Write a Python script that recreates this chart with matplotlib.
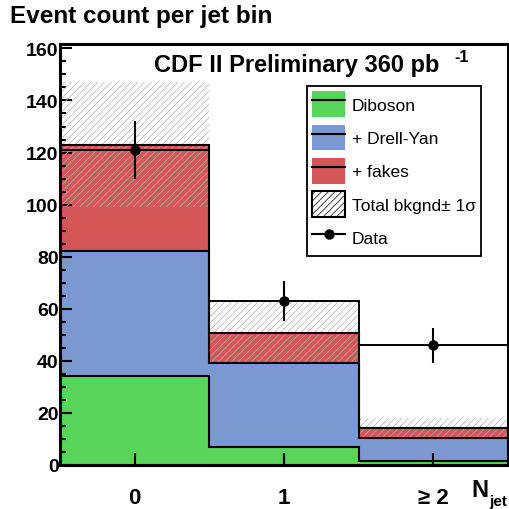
import numpy as np
import matplotlib
matplotlib.use("Agg")
import matplotlib.pyplot as plt
from matplotlib.patches import Patch
from matplotlib.lines import Line2D

plt.rcParams["font.family"] = ["Liberation Sans", "DejaVu Sans"]
plt.rcParams["hatch.linewidth"] = 0.5

# ---------- DATA ----------
jet_bins = [0, 1, 2]
jet_labels = ["0", "1", "\u2265 2"]
diboson = [34.2, 6.8, 1.7]
drell_yan = [48.0, 32.3, 8.7]       # stacked on diboson
fakes = [40.8, 11.7, 3.8]           # stacked on drell-yan
bkg_err = [24.0, 12.0, 4.0]
data = [121, 63, 46]
data_err = [11.0, 7.8, 6.8]

GREEN = "#57d45a"
BLUE = "#7a99d1"
RED = "#d55656"

edges = np.arange(len(jet_bins) + 1) - 0.5
s1 = np.array(diboson)
s2 = s1 + np.array(drell_yan)
s3 = s2 + np.array(fakes)
err = np.array(bkg_err)

fig = plt.figure(figsize=(5.09, 5.10), dpi=100)
ax = fig.add_axes([0.1179, 0.0863, 0.8801, 0.8255])

# ---------- STACK ----------
ax.stairs(s3, edges, baseline=0, fill=True, color=RED, zorder=1)
ax.stairs(s2, edges, baseline=0, fill=True, color=BLUE, zorder=1)
ax.stairs(s1, edges, baseline=0, fill=True, color=GREEN, zorder=1)

# uncertainty band
ax.bar(jet_bins, 2 * err, bottom=s3 - err, width=1.0, facecolor="none",
       edgecolor="#b0b0b0", hatch="/////", linewidth=0, zorder=2)

for s in (s1, s2, s3):
    ax.stairs(s, edges, baseline=None, color="black", linewidth=1.5, zorder=3)

# ---------- DATA ----------
ax.stairs(data, edges, baseline=None, color="black", linewidth=1.4, zorder=4)
ax.errorbar(jet_bins, data, yerr=data_err, fmt="o", color="black",
            markersize=6.5, elinewidth=1.5, capsize=0, zorder=5)

# ---------- AXES ----------
ax.set_xlim(-0.5, 2.5)
ax.set_ylim(0, 161.7)
ax.set_yticks(np.arange(0, 161, 20))
ax.set_yticks(np.arange(0, 161, 5), minor=True)
ax.set_xticks(jet_bins)
ax.set_xticklabels(jet_labels)
ax.tick_params(axis="y", which="major", direction="in", length=8.6, width=1.5,
               labelsize=14, pad=1)
ax.tick_params(axis="y", which="minor", direction="in", length=4.3, width=1.5)
ax.tick_params(axis="x", which="major", direction="in", length=8.6, width=1.5,
               labelsize=16, pad=16)
for lab in ax.get_xticklabels() + ax.get_yticklabels():
    lab.set_fontweight("bold")
for sp in ax.spines.values():
    sp.set_linewidth(2.2)

fig.text(0.926, 0.025, "N", fontsize=17, fontweight="bold", va="baseline")
fig.text(0.962, 0.008, "jet", fontsize=11, fontweight="bold", va="baseline")

# ---------- TEXT ----------
fig.text(0.02, 0.955, "Event count per jet bin", fontsize=17.5,
         fontweight="bold", va="baseline")
fig.text(0.303, 0.859, "CDF II Preliminary 360 pb", fontsize=17,
         fontweight="bold", va="baseline")
fig.text(0.893, 0.878, "-1", fontsize=11.5, fontweight="bold", va="baseline")

# ---------- LEGEND ----------
def band(c):
    return (Patch(facecolor=c, edgecolor="none"),
            Line2D([], [], color="black", linewidth=1.5))

handles = [
    band(GREEN),
    band(BLUE),
    band(RED),
    Patch(facecolor="white", edgecolor="black", hatch="/////", linewidth=1.5),
    Line2D([], [], color="black", marker="o", markersize=6.5, linewidth=1.5),
]
labels = ["Diboson", "+ Drell-Yan", "+ fakes", "Total bkgnd\u00b1 1\u03c3", "Data"]
leg = ax.legend(handles, labels, loc="upper left", bbox_to_anchor=(0.551, 0.900),
                fontsize=12.5, frameon=True, fancybox=False, edgecolor="black",
                framealpha=1, handlelength=1.9, handleheight=1.9,
                handletextpad=0.4, labelspacing=0.44, borderpad=0.3,
                borderaxespad=0)
leg.get_frame().set_linewidth(1.3)
leg.set_zorder(10)

fig.savefig("out.png", dpi=100)
